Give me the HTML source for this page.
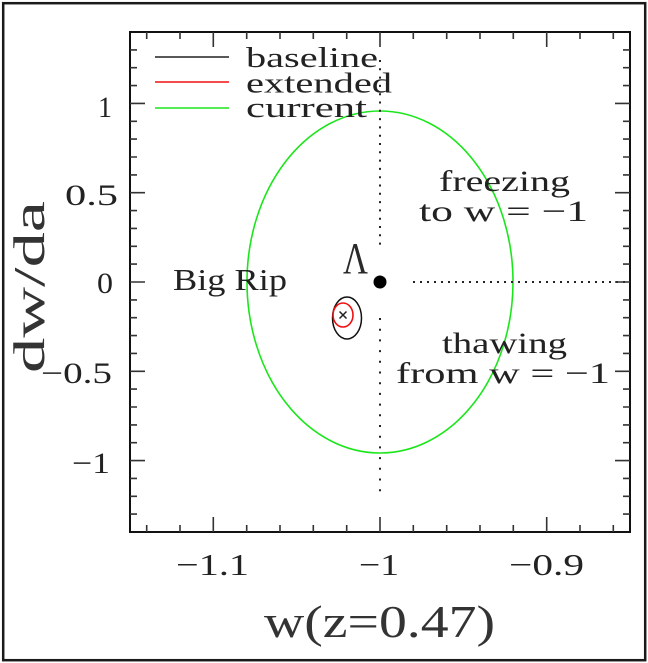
<!DOCTYPE html>
<html>
<head>
<meta charset="utf-8">
<style>
html,body{margin:0;padding:0;background:#fff;}
svg{display:block;}
text{font-family:"Liberation Serif",serif;fill:#222;}
</style>
</head>
<body>
<svg width="648" height="663" viewBox="0 0 648 663" xmlns="http://www.w3.org/2000/svg">
<rect x="0" y="0" width="648" height="663" fill="#fff"/>
<!-- outer frame -->
<rect x="3.2" y="3.2" width="642" height="657" fill="none" stroke="#1a1a1a" stroke-width="2.5"/>

<!-- green ellipse -->
<ellipse cx="380" cy="282" rx="133" ry="171" fill="none" stroke="#1be61b" stroke-width="1.6"/>

<!-- dotted lines -->
<line x1="380" y1="60" x2="380" y2="249" stroke="#222" stroke-width="2" stroke-dasharray="2 6.3"/>
<line x1="380" y1="318" x2="380" y2="497" stroke="#222" stroke-width="2" stroke-dasharray="2 8.7"/>
<line x1="413" y1="282" x2="630" y2="282" stroke="#222" stroke-width="2" stroke-dasharray="2 5"/>

<!-- Lambda point -->
<circle cx="380" cy="282" r="6.5" fill="#000"/>
<text x="343" y="273" font-size="44" textLength="25" lengthAdjust="spacingAndGlyphs" style="fill:#2a2a2a">Λ</text>

<!-- small ellipses -->
<ellipse cx="347" cy="318" rx="14.5" ry="21" fill="none" stroke="#111" stroke-width="1.5"/>
<ellipse cx="343" cy="315" rx="10" ry="12" fill="none" stroke="#f01010" stroke-width="1.6"/>
<path d="M339.5 311.5 L346.5 318.5 M346.5 311.5 L339.5 318.5" stroke="#222" stroke-width="1.5"/>

<!-- axis box -->
<rect x="130" y="32" width="500" height="500" fill="none" stroke="#111" stroke-width="2"/>

<!-- ticks -->
<path stroke="#333" stroke-width="1.6" fill="none" d="
M146.7 532v-7M180 532v-7M246.7 532v-7M280 532v-7M313.3 532v-7M346.7 532v-7M413.3 532v-7M446.7 532v-7M480 532v-7M513.3 532v-7M580 532v-7M613.3 532v-7
M213.3 532v-15M380 532v-15M546.7 532v-15
M146.7 32v7M180 32v7M246.7 32v7M280 32v7M313.3 32v7M346.7 32v7M413.3 32v7M446.7 32v7M480 32v7M513.3 32v7M580 32v7M613.3 32v7
M213.3 32v15M380 32v15M546.7 32v15
M130 49.9h7M130 67.7h7M130 85.6h7M130 121.3h7M130 139.1h7M130 157h7M130 174.9h7M130 210.6h7M130 228.4h7M130 246.3h7M130 264.1h7M130 299.9h7M130 317.7h7M130 335.6h7M130 353.4h7M130 389.1h7M130 407h7M130 424.9h7M130 442.7h7M130 478.4h7M130 496.3h7M130 514.1h7
M130 103.4h15M130 192.7h15M130 282h15M130 371.3h15M130 460.6h15
M630 49.9h-7M630 67.7h-7M630 85.6h-7M630 121.3h-7M630 139.1h-7M630 157h-7M630 174.9h-7M630 210.6h-7M630 228.4h-7M630 246.3h-7M630 264.1h-7M630 299.9h-7M630 317.7h-7M630 335.6h-7M630 353.4h-7M630 389.1h-7M630 407h-7M630 424.9h-7M630 442.7h-7M630 478.4h-7M630 496.3h-7M630 514.1h-7
M630 103.4h-15M630 192.7h-15M630 282h-15M630 371.3h-15M630 460.6h-15"/>

<!-- legend -->
<line x1="155" y1="57" x2="229" y2="57" stroke="#222" stroke-width="1.6"/>
<line x1="155" y1="82" x2="229" y2="82" stroke="#f01010" stroke-width="1.6"/>
<line x1="155" y1="108" x2="229" y2="108" stroke="#1be61b" stroke-width="1.6"/>
<text x="246" y="67" font-size="28" textLength="132" lengthAdjust="spacingAndGlyphs">baseline</text>
<text x="246" y="92.5" font-size="28" textLength="146" lengthAdjust="spacingAndGlyphs">extended</text>
<text x="246" y="117" font-size="28" textLength="121" lengthAdjust="spacingAndGlyphs">current</text>

<!-- annotations -->
<text x="173" y="290" font-size="31" textLength="114" lengthAdjust="spacingAndGlyphs">Big Rip</text>
<text x="439" y="191" font-size="30" textLength="131" lengthAdjust="spacingAndGlyphs">freezing</text>
<text x="419" y="221" font-size="30" textLength="169" lengthAdjust="spacingAndGlyphs">to w = −1</text>
<text x="442" y="353" font-size="30" textLength="125" lengthAdjust="spacingAndGlyphs">thawing</text>
<text x="396" y="383" font-size="30" textLength="214" lengthAdjust="spacingAndGlyphs">from w = −1</text>

<!-- x tick labels -->
<text x="176" y="575" font-size="31" textLength="73" lengthAdjust="spacingAndGlyphs">−1.1</text>
<text x="359" y="575" font-size="31" textLength="40" lengthAdjust="spacingAndGlyphs">−1</text>
<text x="509" y="575" font-size="31" textLength="75" lengthAdjust="spacingAndGlyphs">−0.9</text>

<!-- y tick labels -->
<text x="98" y="117" font-size="30" textLength="14" lengthAdjust="spacingAndGlyphs">1</text>
<text x="65" y="205" font-size="30" textLength="53" lengthAdjust="spacingAndGlyphs">0.5</text>
<text x="97" y="293" font-size="30" textLength="16" lengthAdjust="spacingAndGlyphs">0</text>
<text x="41" y="383" font-size="30" textLength="71" lengthAdjust="spacingAndGlyphs">−0.5</text>
<text x="72" y="473" font-size="30" textLength="38" lengthAdjust="spacingAndGlyphs">−1</text>

<!-- axis labels -->
<text x="264" y="637" font-size="46" textLength="231" lengthAdjust="spacingAndGlyphs" style="fill:#333">w(z=0.47)</text>
<text transform="translate(44,373) rotate(-90)" x="0" y="0" font-size="44" textLength="172" lengthAdjust="spacingAndGlyphs" style="fill:#333">dw/da</text>
</svg>
</body>
</html>
